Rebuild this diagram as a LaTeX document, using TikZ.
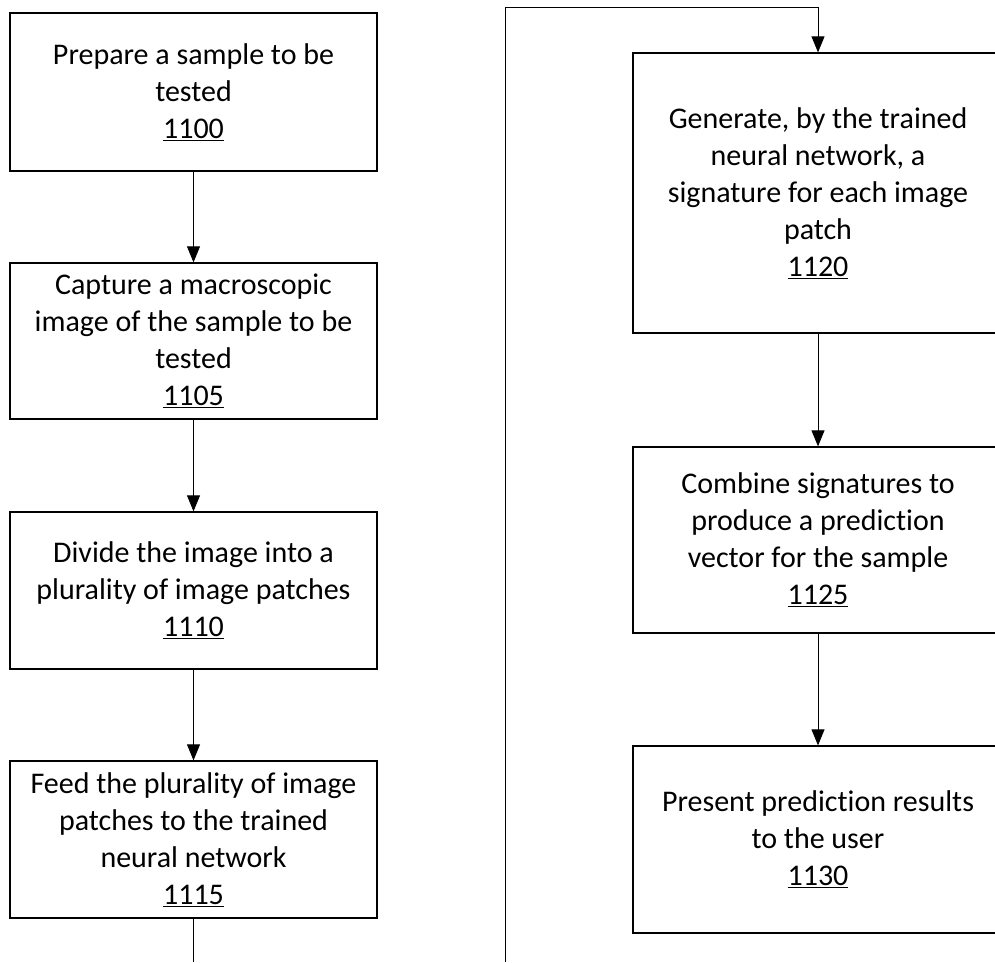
\documentclass[tikz,border=0pt]{standalone}
\usepackage{fontspec}
\setmainfont[Ligatures=NoCommon]{Carlito}
\usetikzlibrary{arrows.meta}
\newcommand{\stepnum}[1]{\underline{#1}}
\begin{document}
\begin{tikzpicture}[x=1pt,y=-1pt,
  stepbox/.style={draw=black,line width=1.3pt,inner sep=0pt,align=center,
    font=\fontsize{30}{37}\selectfont},
  leftbox/.style={stepbox,minimum width=367pt},
  rightbox/.style={stepbox,minimum width=370pt},
  arr/.style={draw=black,line width=0.8pt,-{Triangle[length=16pt,width=13pt]}},
  ln/.style={draw=black,line width=0.8pt}]
\useasboundingbox (0,0) rectangle (995,962);
\clip (0,0) rectangle (995,962);
\node[leftbox,minimum height=158pt] (n1100) at (193.5,92)
  {Prepare a sample to be\\tested\\\stepnum{1100}};
\node[leftbox,minimum height=156pt] (n1105) at (193.5,341)
  {Capture a macroscopic\\image of the sample to be\\tested\\\stepnum{1105}};
\node[leftbox,minimum height=157pt] (n1110) at (193.5,590.5)
  {Divide the image into a\\plurality of image patches\\\stepnum{1110}};
\node[leftbox,minimum height=157pt] (n1115) at (193.5,839.5)
  {Feed the plurality of image\\patches to the trained\\neural network\\\stepnum{1115}};
\node[rightbox,minimum height=280pt] (n1120) at (818,193)
  {Generate, by the trained\\neural network, a\\signature for each image\\patch\\\stepnum{1120}};
\node[rightbox,minimum height=186pt] (n1125) at (818,540)
  {Combine signatures to\\produce a prediction\\vector for the sample\\\stepnum{1125}};
\node[rightbox,minimum height=187pt] (n1130) at (818,839.5)
  {Present prediction results\\to the user\\\stepnum{1130}};
\coordinate (outend) at (193.5,962);
\coordinate (loopstart) at (505,962);
\coordinate (looptop) at (505,7);
\draw[arr] (n1100.south) -- (n1105.north);
\draw[arr] (n1105.south) -- (n1110.north);
\draw[arr] (n1110.south) -- (n1115.north);
\draw[ln] (n1115.south) -- (outend);
\draw[arr] (loopstart) -- (looptop) -- (looptop -| n1120.north) -- (n1120.north);
\draw[arr] (n1120.south) -- (n1125.north);
\draw[arr] (n1125.south) -- (n1130.north);
\end{tikzpicture}
\end{document}
